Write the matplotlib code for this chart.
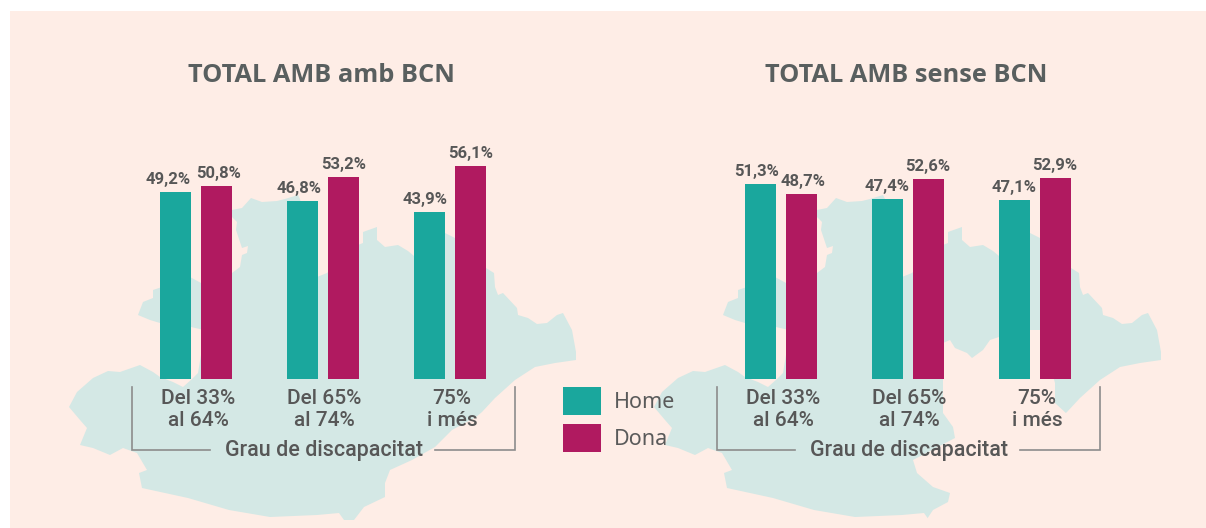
import matplotlib
matplotlib.use('Agg')
import matplotlib.pyplot as plt
from matplotlib.patches import Polygon, Rectangle

W, H = 1206, 528

# values
groups = ['Del 33%\nal 64%', 'Del 65%\nal 74%', '75%\ni més']
home_all = [49.2, 46.8, 43.9]
dona_all = [50.8, 53.2, 56.1]
home_ext = [51.3, 47.4, 47.1]
dona_ext = [48.7, 52.6, 52.9]
series_names = ['Home', 'Dona']
axis_title = 'Grau de discapacitat'
titles = ['TOTAL AMB amb BCN', 'TOTAL AMB sense BCN']

TEAL = '#1aa79d'
WINE = '#b01a60'
BG = '#feede6'
LAND = '#d4e8e5'
TEXT = '#575757'
RULE = '#8c8c8c'

# map silhouette behind the left chart, in image pixels
map_outline = [
    (69, 407), (77, 392), (93, 378), (108, 371), (120, 372), (140, 365), (153, 372), (160, 377),
    (173, 382), (183, 387), (192, 379), (198, 373), (201, 355), (204, 330), (191, 327), (160, 323),
    (150, 320), (138, 315), (143, 302), (153, 298), (153, 290), (159, 288),
    (190, 277), (201, 283), (232, 273), (240, 267), (242, 255), (247, 253), (248, 246), (242, 248),
    (236, 230), (237, 222), (232, 217), (232, 210), (242, 208), (251, 198), (262, 202), (277, 201),
    (285, 199), (298, 195), (300, 199), (317, 277), (327, 273), (358, 245), (363, 243), (363, 232),
    (377, 227), (377, 240), (385, 247), (398, 245), (408, 251), (414, 256), (445, 233), (455, 238),
    (486, 268), (494, 273), (495, 287), (498, 295), (503, 293), (517, 308), (518, 315), (528, 318),
    (537, 324), (547, 323), (557, 315), (563, 313), (572, 330), (576, 352), (576, 360), (555, 363),
    (535, 367), (515, 380), (495, 398), (482, 412), (476, 417), (452, 430), (435, 447), (412, 460),
    (390, 470), (385, 483), (385, 497), (364, 507), (354, 520), (344, 520), (339, 513), (317, 515),
    (270, 517), (229, 510), (188, 498), (142, 488), (139, 473), (147, 470), (137, 453), (123, 448),
    (110, 455), (93, 448), (80, 445), (87, 428), (80, 420),
]
# Barcelona, taken out of the right hand map
bcn_cut = [
    (482, 414), (470, 403), (470, 383), (455, 330), (445, 330), (414, 337), (405, 340), (398, 350),
    (387, 358), (382, 353), (370, 348), (365, 340), (358, 343), (358, 413), (368, 427), (370, 438),
    (328, 460), (332, 473), (348, 487), (365, 493), (363, 502), (348, 510), (340, 522), (420, 528),
    (500, 470),
]
map_shift = 585

plt.rcParams['font.family'] = ['Roboto', 'DejaVu Sans']
fig = plt.figure(figsize=(W / 100, H / 100), dpi=100, facecolor='white')

bg = fig.add_axes([0, 0, 1, 1])
bg.set_xlim(0, W)
bg.set_ylim(H, 0)
bg.axis('off')
bg.add_patch(Rectangle((10, 11), W - 10, H - 11, fc=BG, ec='none'))
bg.add_patch(Polygon(map_outline, fc=LAND, ec='none'))
bg.add_patch(Polygon([(x + map_shift, y) for x, y in map_outline], fc=LAND, ec='none'))
bg.add_patch(Polygon([(x + map_shift, y) for x, y in bcn_cut], fc=BG, ec='none'))


def draw_chart(left, right, first_center, home, dona, title, shifts, label_px, title_x):
    top, base = 130, 379
    spacing = 127
    ax = fig.add_axes([left / W, 1 - base / H, (right - left) / W, (base - top) / H])
    ax.patch.set_alpha(0)
    ax.set_xlim((left - first_center) / spacing, (right - first_center) / spacing)
    ax.set_ylim(0, (base - top) / 3.8)
    ax.axis('off')
    xs = range(len(groups))
    bw = 31 / spacing
    off = 20.5 / spacing
    b1 = ax.bar([x - off for x in xs], home, bw, color=TEAL)
    b2 = ax.bar([x + off for x in xs], dona, bw, color=WINE)
    for i, rect in enumerate(list(b1) + list(b2)):
        val = (home + dona)[i]
        ax.annotate(('%.1f%%' % val).replace('.', ','),
                    (rect.get_x() + bw / 2, val), xytext=(shifts[i], 5),
                    textcoords='offset pixels', ha='center', va='bottom',
                    fontsize=12, fontweight='bold', color=TEXT)
    for x, g in zip(label_px, groups):
        bg.text(x, 409.5, g, ha='center', va='center', fontsize=15, fontweight='medium',
                color=TEXT, linespacing=1.15)
    mid = (left + right) / 2 + 1
    bg.text(mid, 450.5, axis_title, ha='center', va='center', fontsize=15.5,
            fontweight='medium', color=TEXT)
    bg.plot([left, left, left + 78], [387, 450, 450], color=RULE, lw=1.2, solid_joinstyle='miter')
    bg.plot([right - 80, right, right], [450, 450, 387], color=RULE, lw=1.2, solid_joinstyle='miter')
    bg.text(title_x, 75.5, title, ha='center', va='center', fontsize=18.3, fontweight='bold',
            color='#595f5f', family=['Open Sans', 'DejaVu Sans'])


draw_chart(132, 515, 196, home_all, dona_all, titles[0], [-7, -3, -4, 2.5, 0, 0],
           [198, 324, 452], 321.5)
draw_chart(717, 1100, 780.5, home_ext, dona_ext, titles[1], [-3, 0, 0, 2, 0, 0],
           [783, 909, 1037], 906.5)

# legend
for y, col, name in zip([387, 424], [TEAL, WINE], series_names):
    bg.add_patch(Rectangle((563, y), 38, 28, fc=col, ec='none'))
    bg.text(614, y + 15.5, name, ha='left', va='center', fontsize=15.5, fontweight='light',
            color='#5a5a5a', family=['Noto Sans', 'DejaVu Sans'])

fig.savefig('out.png', dpi=100)
